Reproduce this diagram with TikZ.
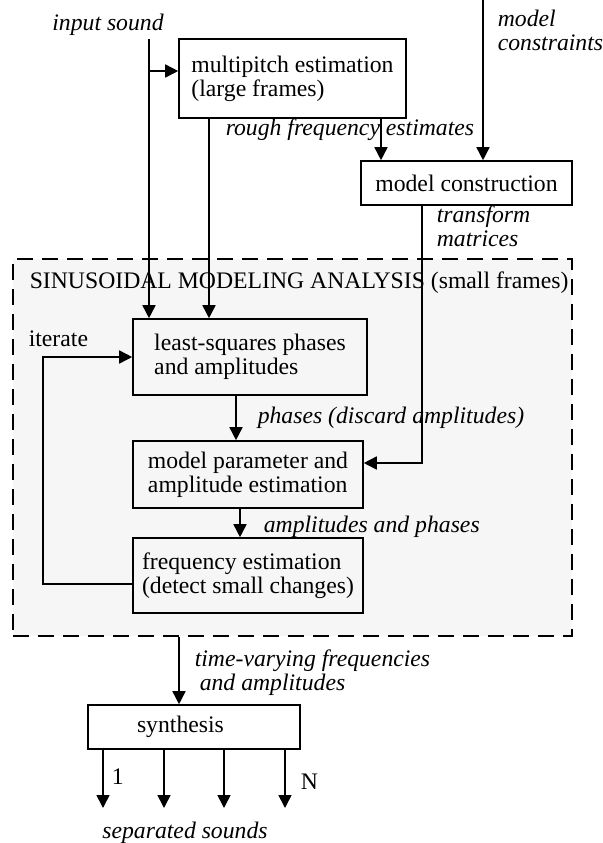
\documentclass[tikz,border=0pt]{standalone}
\usepackage{fontspec}
\setmainfont{Liberation Serif}
\usetikzlibrary{positioning,calc,arrows.meta}
\definecolor{groupgray}{RGB}{246,246,246}

\begin{document}
\begin{tikzpicture}[x=0.5pt, y=-0.5pt, >={Triangle[length=6.5pt,width=6.5pt]},
    line width=0.8pt,
    every node/.style={font=\fontsize{11.85}{12}\selectfont, inner sep=0pt},
    lbl/.style={font=\fontsize{11.85}{12}\selectfont\itshape},
    stage/.style={draw, align=left},
    group/.style={draw, dash pattern=on 8pt off 4.5pt, fill=groupgray}]
    \useasboundingbox (0,0) rectangle (603,843);

    % Analysis frame
    \node[group, minimum width=279.5pt, minimum height=188.5pt] (grp) at (292.5,447.5) {};
    \node[anchor=west] (grptitle) at (29,283) {SINUSOIDAL MODELING ANALYSIS (small frames)};

    % Processing stages
    \node[stage, minimum width=113.5pt, minimum height=39.5pt] (mp) at (292.5,78.5) {multipitch estimation\\(large frames)};
    \node[stage, minimum width=105.5pt, minimum height=22pt] (mc) at (466.5,183) {model construction};
    \node[stage, minimum width=117pt, minimum height=38pt] (ls) at (250,357) {least-squares phases\\and amplitudes};
    \node[stage, minimum width=115pt, minimum height=33.5pt] (mpe) at (248,474.5) {model parameter and\\amplitude estimation};
    \node[stage, minimum width=115pt, minimum height=37.5pt] (fe) at (248,575.5) {frequency estimation\\(detect small changes)};
    \node[stage, minimum height=22pt, text width=57pt, inner xsep=24.5pt] (syn) at (194,727) {synthesis};

    % Lanes and free ends
    \coordinate (insrc) at (149,39);
    \coordinate (tap) at (149,71);
    \coordinate (lanemp) at (209,0);
    \coordinate (lanerough) at (381,0);
    \coordinate (mcsrc) at (483,0);
    \coordinate (tm) at (422,463);
    \coordinate (lanels) at (236,0);
    \coordinate (lanempe) at (240,0);
    \coordinate (loopc) at (43,584);
    \coordinate (laneout) at (179,0);

    % Connectors
    \draw[->] (insrc) -- (ls.north -| insrc);
    \draw[->] (tap) -- (mp.west |- tap);
    \draw[->] (mp.south -| lanemp) -- (ls.north -| lanemp);
    \draw[->] (mp.south -| lanerough) -- (mc.north -| lanerough);
    \draw[->] (mcsrc) -- (mc.north -| mcsrc);
    \draw[->] (mc.south -| tm) -- (tm) -- (mpe.east |- tm);
    \draw[->] (ls.south -| lanels) -- (mpe.north -| lanels);
    \draw[->] (mpe.south -| lanempe) -- (fe.north -| lanempe);
    \draw[->] (fe.west |- loopc) -- (loopc) |- (ls.west);
    \draw[->] (grp.south -| laneout) -- (syn.north -| laneout);
    \foreach \x/\n in {103/1,164/2,224/3,285/4}{
        \coordinate (out\n) at (\x,808);
        \draw[->] (syn.south -| out\n) -- (out\n);
    }

    % Labels
    \node[lbl] (insnd) at (108,25) {input sound};
    \node[lbl, align=left, anchor=west] (constr) at (497,30.5) {model\\constraints};
    \node[lbl, anchor=west] (rough) at (225,130) {rough frequency estimates};
    \node[lbl, align=left, anchor=west] (trans) at (436,226.5) {transform\\matrices};
    \node[anchor=west] (iter) at (28,339) {iterate};
    \node[lbl, anchor=west] (phs) at (257,418) {phases (discard amplitudes)};
    \node[lbl, anchor=west] (amph) at (263,527) {amplitudes and phases};
    \node[lbl, align=left, anchor=west] (tvf) at (194,672.5) {time-varying frequencies\\\hspace*{2.5pt}and amplitudes};
    \node[anchor=west] (one) at (111,777) {1};
    \node[anchor=west] (nn) at (300,782) {N};
    \node[lbl] (sep) at (185,833) {separated sounds};
\end{tikzpicture}
\end{document}
